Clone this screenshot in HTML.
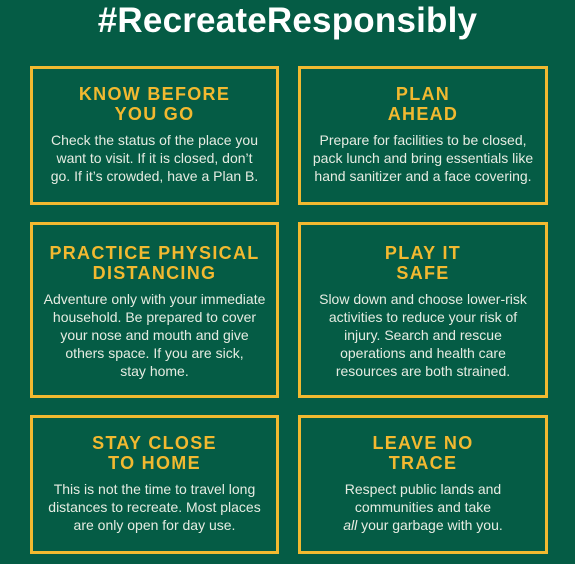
<!DOCTYPE html>
<html><head><meta charset="utf-8"><style>
body{margin:0;width:575px;height:564px;background:#055c45;font-family:"Liberation Sans",sans-serif;overflow:hidden;position:relative}
h1{position:absolute;top:1px;left:0;width:575px;margin:0;text-align:center;color:#fff;font-size:35px;line-height:40px;font-weight:bold;letter-spacing:0.2px}
.box{position:absolute;box-sizing:border-box;border:3px solid #f2b930;text-align:center;padding-top:15px}
.t{color:#f2b930;font-weight:bold;font-size:18px;line-height:20px;letter-spacing:1.3px}
.b{color:#e6ece2;font-size:14px;line-height:18px;margin-top:7px;white-space:nowrap}
</style></head><body>
<h1>#RecreateResponsibly</h1>
<div class="box" style="left:30px;top:66px;width:249px;height:139px">
<div class="t">KNOW BEFORE<br>YOU GO</div>
<div class="b">Check the status of the place you<br>want to visit. If it is closed, don’t<br>go. If it’s crowded, have a Plan B.</div></div>
<div class="box" style="left:298px;top:66px;width:250px;height:139px">
<div class="t">PLAN<br>AHEAD</div>
<div class="b">Prepare for facilities to be closed,<br>pack lunch and bring essentials like<br>hand sanitizer and a face covering.</div></div>
<div class="box" style="left:30px;top:222px;width:249px;height:176px;padding-top:18px">
<div class="t">PRACTICE PHYSICAL<br>DISTANCING</div>
<div class="b">Adventure only with your immediate<br>household. Be prepared to cover<br>your nose and mouth and give<br>others space. If you are sick,<br>stay home.</div></div>
<div class="box" style="left:298px;top:222px;width:250px;height:176px;padding-top:18px">
<div class="t">PLAY IT<br>SAFE</div>
<div class="b">Slow down and choose lower-risk<br>activities to reduce your risk of<br>injury. Search and rescue<br>operations and health care<br>resources are both strained.</div></div>
<div class="box" style="left:30px;top:415px;width:249px;height:139px">
<div class="t">STAY CLOSE<br>TO HOME</div>
<div class="b">This is not the time to travel long<br>distances to recreate. Most places<br>are only open for day use.</div></div>
<div class="box" style="left:298px;top:415px;width:250px;height:139px">
<div class="t">LEAVE NO<br>TRACE</div>
<div class="b">Respect public lands and<br>communities and take<br><i>all</i> your garbage with you.</div></div>
</body></html>
